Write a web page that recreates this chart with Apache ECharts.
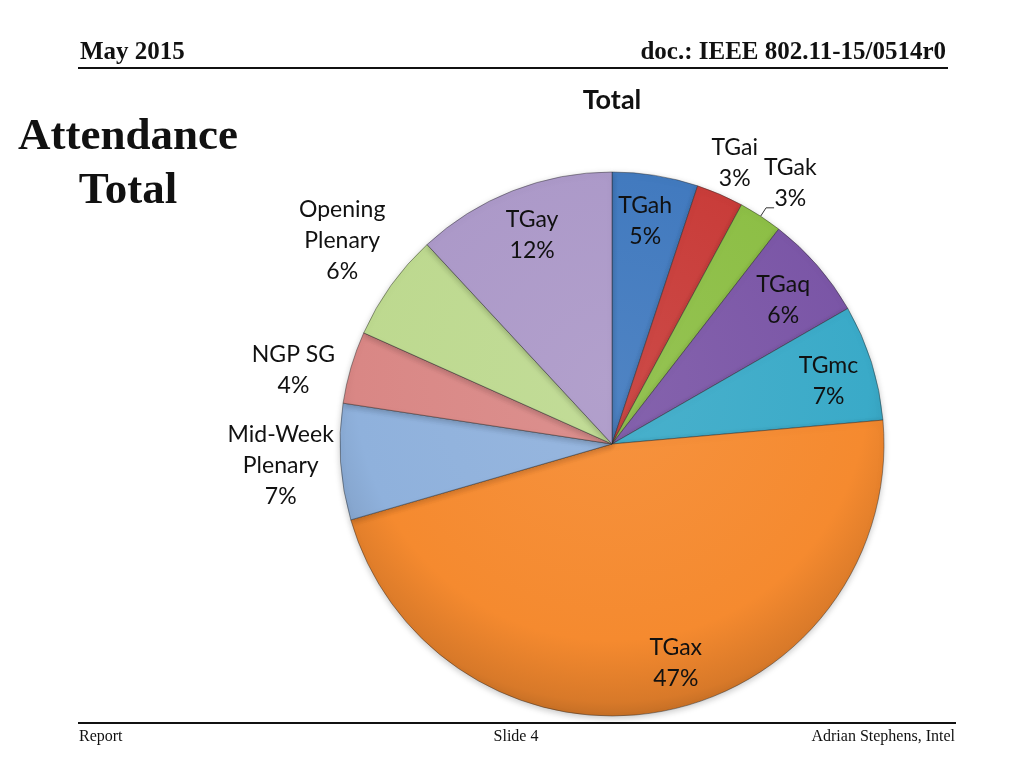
<!DOCTYPE html>
<html><head><meta charset="utf-8">
<script src="https://cdn.jsdelivr.net/npm/echarts@6/dist/echarts.min.js"></script>
<style>html,body{margin:0;padding:0;background:#fff}#c{width:1024px;height:768px}</style>
</head><body><div id="c"></div>
<script>
const categories = ['TGah','TGai','TGak','TGaq','TGmc','TGax','Mid-Week\nPlenary','NGP SG','Opening\nPlenary','TGay'];
const values = [5.1, 2.8, 2.6, 6.2, 6.9, 46.9, 6.9, 4.3, 6.4, 11.9];
const colors = ['#3F78BE','#C83A37','#8CBE44','#7A55A6','#3AAAC8','#F58A2F','#8FB1DC','#D98785','#BDD98F','#AB98C8'];
// which label placement each category uses
const innerLabels = ['TGah','TGaq','TGmc','TGax','TGay'];
const aiOuter = ['TGai'];
const akOuter = ['TGak'];
const leftOuter = ['Mid-Week\nPlenary','NGP SG','Opening\nPlenary'];
// small label nudges (style only)
const labelNudge = {'TGax':[22,-4], 'NGP SG':[0,20], 'Opening\nPlenary':[0,-10],
  'TGai':[-2,7], 'TGak':[4,6], 'TGaq':[0,5], 'TGmc':[0,5], 'TGah':[-3,1], 'TGay':[3,2]};

const cx = 612, cy = 444, R = 272;
function shade(hex, f){
  const n = parseInt(hex.slice(1),16);
  let r=(n>>16)&255,g=(n>>8)&255,b=n&255;
  if (f<0){r=r*(1+f);g=g*(1+f);b=b*(1+f);} else {r=r+(255-r)*f;g=g+(255-g)*f;b=b+(255-b)*f;}
  return 'rgb('+Math.round(r)+','+Math.round(g)+','+Math.round(b)+')';
}
function grad(c){
  return {type:'radial', x:cx, y:cy-60, r:R+70, global:true,
    colorStops:[{offset:0,color:shade(c,0.08)},{offset:0.75,color:c},{offset:0.93,color:shade(c,-0.12)},{offset:1,color:shade(c,-0.25)}]};
}
const fmt = p => p.name + '\n' + Math.round(p.percent) + '%';
const labelFont = {fontFamily:'Lato, "Open Sans", sans-serif', fontSize:23, color:'#111', lineHeight:31};

function labelSeries(radius, list){
  return {
    type:'pie', center:[cx,cy], radius:radius, startAngle:90, clockwise:true,
    silent:true, avoidLabelOverlap:false, emphasis:{disabled:true}, z:5,
    itemStyle:{color:'rgba(0,0,0,0)', borderWidth:0},
    labelLine:{show:false},
    labelLayout:{hideOverlap:false},
    label:Object.assign({show:true, position:'inside', formatter:fmt}, labelFont),
    data: categories.map((c,i)=>({name:c, value:values[i],
      label:{show:list.indexOf(c)>=0, offset:labelNudge[c]||[0,0]}}))
  };
}

const chart = echarts.init(document.getElementById('c'));
chart.setOption({
  backgroundColor:'#fff',
  animation:false,
  title:{text:'Total', left:607, top:82, textAlign:'center',
    textStyle:{fontFamily:'Lato, "Open Sans", sans-serif', fontWeight:'bold', fontSize:27, color:'#111'}},
  series:[
    {
      type:'pie', center:[cx,cy], radius:R, startAngle:90, clockwise:true,
      silent:true, emphasis:{disabled:true}, avoidLabelOverlap:false,
      labelLayout:{hideOverlap:false},
      label:{show:false}, labelLine:{show:false},
      itemStyle:{borderColor:'rgba(40,40,40,0.45)', borderWidth:1,
        shadowBlur:6, shadowColor:'rgba(0,0,0,0.22)', shadowOffsetY:2},
      data: categories.map((c,i)=>{
        const d = {name:c, value:values[i], itemStyle:{color:grad(colors[i])}};
        if (c === 'TGak') {
          d.label = {show:true, position:'outside', formatter:' ', fontSize:8};
          d.labelLine = {show:true, length:10, length2:8, smooth:false, lineStyle:{color:'#333', width:1, shadowBlur:0}};
        }
        return d;
      })
    },
    labelSeries([176, R], innerLabels),
    labelSeries([R, 350], aiOuter),
    labelSeries([R, 360], akOuter),
    labelSeries([R, 386], leftOuter)
  ],
  graphic:[
    {type:'text', left:80, top:40, style:{text:'May 2015', font:'bold 25px "Liberation Serif", serif', fill:'#111'}},
    {type:'text', right:78, top:40, style:{text:'doc.: IEEE 802.11-15/0514r0', font:'bold 25px "Liberation Serif", serif', fill:'#111'}},
    {type:'rect', shape:{x:78, y:67, width:870, height:2}, style:{fill:'#111'}},
    {type:'text', x:128, y:137, style:{text:'Attendance', font:'bold 45px "Liberation Serif", serif', fill:'#111', align:'center', verticalAlign:'middle'}},
    {type:'text', x:128, y:191, style:{text:'Total', font:'bold 45px "Liberation Serif", serif', fill:'#111', align:'center', verticalAlign:'middle'}},
    {type:'rect', shape:{x:78, y:722, width:878, height:2}, style:{fill:'#111'}},
    {type:'text', x:79, y:737, style:{text:'Report', font:'16px "Liberation Serif", serif', fill:'#111', verticalAlign:'middle'}},
    {type:'text', x:516, y:737, style:{text:'Slide 4', font:'16px "Liberation Serif", serif', fill:'#111', align:'center', verticalAlign:'middle'}},
    {type:'text', x:955, y:737, style:{text:'Adrian Stephens, Intel', font:'16px "Liberation Serif", serif', fill:'#111', align:'right', verticalAlign:'middle'}}
  ]
});
</script></body></html>
